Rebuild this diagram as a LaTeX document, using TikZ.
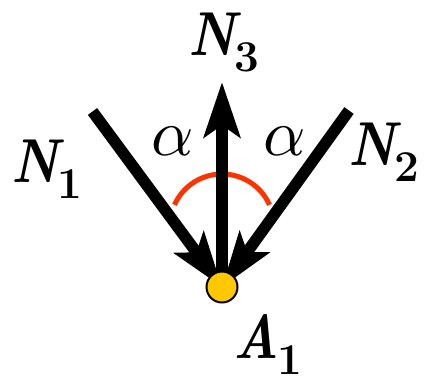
\documentclass[tikz,border=0pt]{standalone}
\usepackage{graphicx}
\usetikzlibrary{arrows.meta}
\begin{document}
\begin{tikzpicture}[x=1pt,y=-1pt,
  force/.style={line width=11.5pt,-{Stealth[length=55pt,width=36pt,inset=12pt]}},
  lbl/.style={inner sep=0pt,anchor=base west,font=\fontsize{62}{62}\selectfont\bfseries\itshape},
  ang/.style={inner sep=0pt,anchor=base west,font=\normalsize},
  arcline/.style={draw=redarc,line width=5pt},
  dot/.style={circle,draw=black,line width=2pt,fill=dotfill,minimum size=31pt,inner sep=0pt}]
\definecolor{redarc}{RGB}{255,51,0}
\definecolor{dotfill}{RGB}{255,200,0}
\newcommand{\lblt}[2]{\scalebox{0.85}[1]{#1}\kern-1pt\raisebox{-16pt}{\upshape\fontsize{44}{44}\selectfont #2}}
\useasboundingbox (0,0) rectangle (433,383);
\coordinate (A) at (222,287);
\coordinate (T1) at (92.5,111.5);
\coordinate (T2) at (349,110.5);
\coordinate (H3) at (222,82);
\draw[arcline] plot[domain=24:156,samples=50] ({222+52*cos(\x)},{226-52*sin(\x)});
\draw[force] (T1) -- (A);
\draw[force] (T2) -- (A);
\draw[force] (A) -- (H3);
\node[dot] (A1dot) at (A) {};
\node[lbl] (n1) at (11,182) {\lblt{N}{1}};
\node[lbl] (n2) at (348,165) {\lblt{N}{2}};
\node[lbl] (n3) at (188,55) {\lblt{N}{3}};
\node[lbl] (a1) at (233,358) {\lblt{A}{1}};
\node[ang] (al) at (151,155) {\scalebox{6.6}{$\alpha$}};
\node[ang] (ar) at (263,155) {\scalebox{6.6}{$\alpha$}};
\end{tikzpicture}
\end{document}
